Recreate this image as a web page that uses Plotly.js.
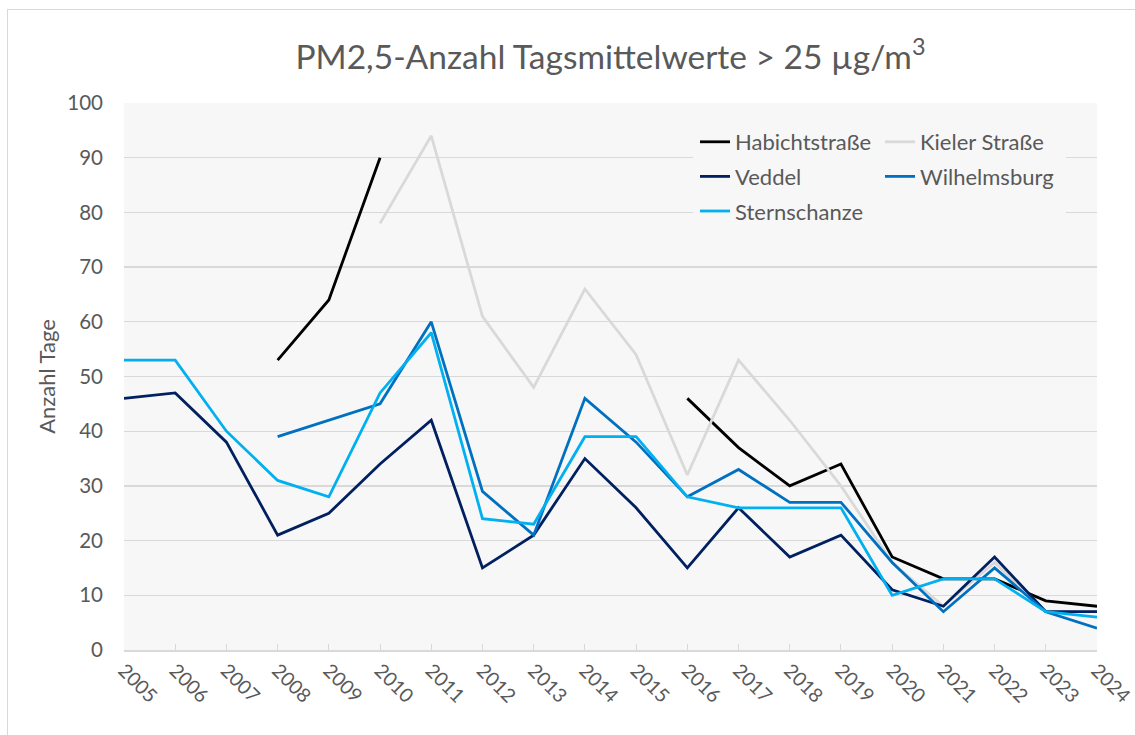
<!DOCTYPE html>
<html>
<head>
<meta charset="utf-8">
<script src="https://cdn.plot.ly/plotly-3.0.1.min.js"></script>
<style>
  html, body { margin: 0; padding: 0; background: #ffffff; }
  #wrap { position: relative; width: 1135px; height: 735px; overflow: hidden; }
  #chart { position: absolute; left: 0; top: 0; width: 1135px; height: 735px; }
  #frame { position: absolute; left: 7px; top: 9px; width: 1200px; height: 800px;
           border-left: 1px solid #d9d9d9; border-top: 1px solid #d9d9d9; pointer-events: none; }
</style>
</head>
<body>
<div id="wrap">
  <div id="chart"></div>
  <div id="frame"></div>
</div>
<script>
const years = ["2005","2006","2007","2008","2009","2010","2011","2012","2013","2014",
               "2015","2016","2017","2018","2019","2020","2021","2022","2023","2024"];
const habichtstrasse = [null,null,null,53,64,90,null,null,null,null,null,46,37,30,34,17,13,13,9,8];
const kielerStrasse  = [null,null,null,null,null,78,94,61,48,66,54,32,53,42,30,16,8,16,7,7];
const veddel         = [46,47,38,21,25,34,42,15,21,35,26,15,26,17,21,11,8,17,7,7];
const wilhelmsburg   = [null,null,null,39,42,45,60,29,21,46,38,28,33,27,27,16,7,15,7,4];
const sternschanze   = [53,53,40,31,28,47,58,24,23,39,39,28,26,26,26,10,13,13,7,6];

const seriesNames  = ["Habichtstraße","Kieler Straße","Veddel","Wilhelmsburg","Sternschanze"];
const seriesData   = [habichtstrasse, kielerStrasse, veddel, wilhelmsburg, sternschanze];
const seriesColors = ["#000000","#d9d9d9","#002060","#0070c0","#00b0f0"];
const seriesLegend = ["legend","legend2","legend","legend2","legend"];

const FONT = "Lato, 'Open Sans', sans-serif";
const TXT = "#595959";

const traces = seriesNames.map((n, i) => ({
  type: "scatter",
  mode: "lines",
  name: n,
  x: years,
  y: seriesData[i],
  connectgaps: false,
  line: { color: seriesColors[i], width: 2.8 },
  legend: seriesLegend[i],
  legendgroup: "g" + i,
  hoverinfo: "skip"
}));

const L = 124, R = 38, T = 103, B = 85;
const W = 1135 - L - R, H = 735 - T - B;
const px2x = p => (p - L) / W;
const px2y = p => (735 - B - p) / H;

const legendCommon = {
  bgcolor: "rgba(0,0,0,0)",
  borderwidth: 0,
  font: { family: FONT, size: 22, color: TXT },
  orientation: "v",
  traceorder: "grouped",
  tracegroupgap: 3,
  xref: "paper", yref: "paper",
  xanchor: "left", yanchor: "top"
};

const layout = {
  width: 1135, height: 735,
  margin: { l: L, r: R, t: T, b: B, pad: 0 },
  paper_bgcolor: "rgba(0,0,0,0)",
  plot_bgcolor: "#f7f7f7",
  font: { family: FONT, color: TXT },
  showlegend: true,
  title: {
    text: "PM2,5-Anzahl Tagsmittelwerte > 25 µg/m<sup>3</sup>",
    font: { family: FONT, size: 33.5, color: TXT },
    xref: "paper", x: 0.5, xanchor: "center",
    yref: "container", y: 1 - 57 / 735, yanchor: "middle"
  },
  xaxis: {
    type: "category",
    range: [0, 19],
    tickvals: years,
    ticktext: years,
    tickangle: 45,
    ticks: "inside", ticklen: 6, tickcolor: "#d9d9d9", tickwidth: 1,
    showline: true, linecolor: "#d9d9d9", linewidth: 1.5,
    showgrid: false, zeroline: false,
    tickfont: { family: FONT, size: 19.5, color: TXT },
    automargin: false, fixedrange: true
  },
  yaxis: {
    range: [0, 100],
    dtick: 10,
    showgrid: true, gridcolor: "#d9d9d9", gridwidth: 1.3,
    zeroline: false, showline: false, ticks: "",
    ticklabelstandoff: 20,
    tickfont: { family: FONT, size: 20.5, color: TXT },
    title: { text: "Anzahl Tage", font: { family: FONT, size: 22, color: TXT }, standoff: 5 },
    automargin: false, fixedrange: true
  },
  legend: Object.assign({}, legendCommon, { x: px2x(695), y: px2y(121) }),
  legend2: Object.assign({}, legendCommon, { x: px2x(880), y: px2y(121) }),
  shapes: [{
    type: "rect", xref: "paper", yref: "paper", layer: "above",
    x0: px2x(693), x1: px2x(1066), y0: px2y(232), y1: px2y(116),
    fillcolor: "#f7f7f7", line: { width: 0 }
  }]
};

Plotly.newPlot("chart", traces, layout, { displayModeBar: false, staticPlot: true });
</script>
</body>
</html>
